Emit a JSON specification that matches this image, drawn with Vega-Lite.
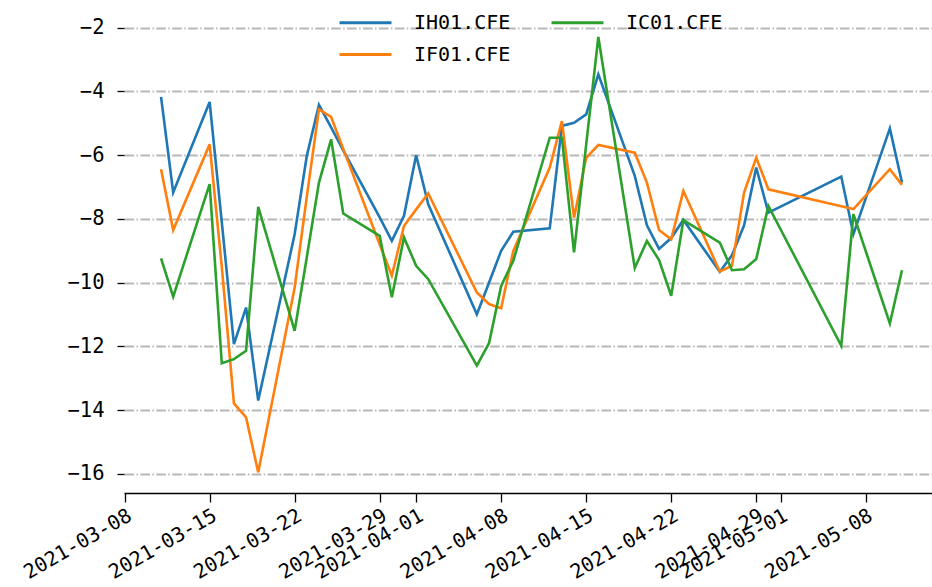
{
  "$schema": "https://vega.github.io/schema/vega-lite/v6.json",
  "autosize": {"type": "none"},
  "width": 808,
  "height": 478,
  "padding": {"left": 124, "top": 15, "right": 0, "bottom": 94},
  "background": "white",
  "config": {
    "view": {"stroke": null},
    "font": "DejaVu Sans Mono"
  },
  "data": {
    "values": [
      {"date": "2021/03/11", "series": "IH01.CFE", "value": -4.17},
      {"date": "2021/03/12", "series": "IH01.CFE", "value": -7.17},
      {"date": "2021/03/15", "series": "IH01.CFE", "value": -4.33},
      {"date": "2021/03/16", "series": "IH01.CFE", "value": -8.1},
      {"date": "2021/03/17", "series": "IH01.CFE", "value": -11.93},
      {"date": "2021/03/18", "series": "IH01.CFE", "value": -10.78},
      {"date": "2021/03/19", "series": "IH01.CFE", "value": -13.7},
      {"date": "2021/03/22", "series": "IH01.CFE", "value": -8.48},
      {"date": "2021/03/23", "series": "IH01.CFE", "value": -6.02},
      {"date": "2021/03/24", "series": "IH01.CFE", "value": -4.42},
      {"date": "2021/03/25", "series": "IH01.CFE", "value": -5.13},
      {"date": "2021/03/26", "series": "IH01.CFE", "value": -5.85},
      {"date": "2021/03/29", "series": "IH01.CFE", "value": -7.95},
      {"date": "2021/03/30", "series": "IH01.CFE", "value": -8.69},
      {"date": "2021/03/31", "series": "IH01.CFE", "value": -7.9},
      {"date": "2021/04/01", "series": "IH01.CFE", "value": -6.0},
      {"date": "2021/04/02", "series": "IH01.CFE", "value": -7.54},
      {"date": "2021/04/06", "series": "IH01.CFE", "value": -10.99},
      {"date": "2021/04/07", "series": "IH01.CFE", "value": -10.0},
      {"date": "2021/04/08", "series": "IH01.CFE", "value": -9.0},
      {"date": "2021/04/09", "series": "IH01.CFE", "value": -8.4},
      {"date": "2021/04/12", "series": "IH01.CFE", "value": -8.29},
      {"date": "2021/04/13", "series": "IH01.CFE", "value": -5.08},
      {"date": "2021/04/14", "series": "IH01.CFE", "value": -4.98},
      {"date": "2021/04/15", "series": "IH01.CFE", "value": -4.72},
      {"date": "2021/04/16", "series": "IH01.CFE", "value": -3.46},
      {"date": "2021/04/19", "series": "IH01.CFE", "value": -6.65},
      {"date": "2021/04/20", "series": "IH01.CFE", "value": -8.2},
      {"date": "2021/04/21", "series": "IH01.CFE", "value": -8.94},
      {"date": "2021/04/22", "series": "IH01.CFE", "value": -8.6},
      {"date": "2021/04/23", "series": "IH01.CFE", "value": -8.03},
      {"date": "2021/04/26", "series": "IH01.CFE", "value": -9.66},
      {"date": "2021/04/27", "series": "IH01.CFE", "value": -9.14},
      {"date": "2021/04/28", "series": "IH01.CFE", "value": -8.2},
      {"date": "2021/04/29", "series": "IH01.CFE", "value": -6.39},
      {"date": "2021/04/30", "series": "IH01.CFE", "value": -7.8},
      {"date": "2021/05/06", "series": "IH01.CFE", "value": -6.67},
      {"date": "2021/05/07", "series": "IH01.CFE", "value": -8.48},
      {"date": "2021/05/10", "series": "IH01.CFE", "value": -5.16},
      {"date": "2021/05/11", "series": "IH01.CFE", "value": -6.86},
      {"date": "2021/03/11", "series": "IF01.CFE", "value": -6.44},
      {"date": "2021/03/12", "series": "IF01.CFE", "value": -8.35},
      {"date": "2021/03/15", "series": "IF01.CFE", "value": -5.66},
      {"date": "2021/03/16", "series": "IF01.CFE", "value": -9.5},
      {"date": "2021/03/17", "series": "IF01.CFE", "value": -13.79},
      {"date": "2021/03/18", "series": "IF01.CFE", "value": -14.23},
      {"date": "2021/03/19", "series": "IF01.CFE", "value": -15.95},
      {"date": "2021/03/22", "series": "IF01.CFE", "value": -10.15},
      {"date": "2021/03/23", "series": "IF01.CFE", "value": -7.3},
      {"date": "2021/03/24", "series": "IF01.CFE", "value": -4.56},
      {"date": "2021/03/25", "series": "IF01.CFE", "value": -4.8},
      {"date": "2021/03/26", "series": "IF01.CFE", "value": -5.8},
      {"date": "2021/03/29", "series": "IF01.CFE", "value": -8.8},
      {"date": "2021/03/30", "series": "IF01.CFE", "value": -9.78},
      {"date": "2021/03/31", "series": "IF01.CFE", "value": -8.22},
      {"date": "2021/04/01", "series": "IF01.CFE", "value": -7.7},
      {"date": "2021/04/02", "series": "IF01.CFE", "value": -7.2},
      {"date": "2021/04/06", "series": "IF01.CFE", "value": -10.31},
      {"date": "2021/04/07", "series": "IF01.CFE", "value": -10.67},
      {"date": "2021/04/08", "series": "IF01.CFE", "value": -10.8},
      {"date": "2021/04/09", "series": "IF01.CFE", "value": -9.0},
      {"date": "2021/04/12", "series": "IF01.CFE", "value": -6.39},
      {"date": "2021/04/13", "series": "IF01.CFE", "value": -4.93},
      {"date": "2021/04/14", "series": "IF01.CFE", "value": -7.96},
      {"date": "2021/04/15", "series": "IF01.CFE", "value": -6.08},
      {"date": "2021/04/16", "series": "IF01.CFE", "value": -5.68},
      {"date": "2021/04/19", "series": "IF01.CFE", "value": -5.92},
      {"date": "2021/04/20", "series": "IF01.CFE", "value": -6.86},
      {"date": "2021/04/21", "series": "IF01.CFE", "value": -8.35},
      {"date": "2021/04/22", "series": "IF01.CFE", "value": -8.64},
      {"date": "2021/04/23", "series": "IF01.CFE", "value": -7.12},
      {"date": "2021/04/26", "series": "IF01.CFE", "value": -9.65},
      {"date": "2021/04/27", "series": "IF01.CFE", "value": -9.47},
      {"date": "2021/04/28", "series": "IF01.CFE", "value": -7.17},
      {"date": "2021/04/29", "series": "IF01.CFE", "value": -6.08},
      {"date": "2021/04/30", "series": "IF01.CFE", "value": -7.07},
      {"date": "2021/05/06", "series": "IF01.CFE", "value": -7.6},
      {"date": "2021/05/07", "series": "IF01.CFE", "value": -7.69},
      {"date": "2021/05/10", "series": "IF01.CFE", "value": -6.44},
      {"date": "2021/05/11", "series": "IF01.CFE", "value": -6.93},
      {"date": "2021/03/11", "series": "IC01.CFE", "value": -9.24},
      {"date": "2021/03/12", "series": "IC01.CFE", "value": -10.44},
      {"date": "2021/03/15", "series": "IC01.CFE", "value": -6.91},
      {"date": "2021/03/16", "series": "IC01.CFE", "value": -12.53},
      {"date": "2021/03/17", "series": "IC01.CFE", "value": -12.4},
      {"date": "2021/03/18", "series": "IC01.CFE", "value": -12.14},
      {"date": "2021/03/19", "series": "IC01.CFE", "value": -7.62},
      {"date": "2021/03/22", "series": "IC01.CFE", "value": -11.51},
      {"date": "2021/03/23", "series": "IC01.CFE", "value": -9.2},
      {"date": "2021/03/24", "series": "IC01.CFE", "value": -6.86},
      {"date": "2021/03/25", "series": "IC01.CFE", "value": -5.5},
      {"date": "2021/03/26", "series": "IC01.CFE", "value": -7.83},
      {"date": "2021/03/29", "series": "IC01.CFE", "value": -8.53},
      {"date": "2021/03/30", "series": "IC01.CFE", "value": -10.46},
      {"date": "2021/03/31", "series": "IC01.CFE", "value": -8.58},
      {"date": "2021/04/01", "series": "IC01.CFE", "value": -9.47},
      {"date": "2021/04/02", "series": "IC01.CFE", "value": -9.89},
      {"date": "2021/04/06", "series": "IC01.CFE", "value": -12.6},
      {"date": "2021/04/07", "series": "IC01.CFE", "value": -11.9},
      {"date": "2021/04/08", "series": "IC01.CFE", "value": -10.1},
      {"date": "2021/04/09", "series": "IC01.CFE", "value": -9.31},
      {"date": "2021/04/12", "series": "IC01.CFE", "value": -5.45},
      {"date": "2021/04/13", "series": "IC01.CFE", "value": -5.45},
      {"date": "2021/04/14", "series": "IC01.CFE", "value": -9.05},
      {"date": "2021/04/15", "series": "IC01.CFE", "value": -5.67},
      {"date": "2021/04/16", "series": "IC01.CFE", "value": -2.29},
      {"date": "2021/04/19", "series": "IC01.CFE", "value": -9.54},
      {"date": "2021/04/20", "series": "IC01.CFE", "value": -8.69},
      {"date": "2021/04/21", "series": "IC01.CFE", "value": -9.29},
      {"date": "2021/04/22", "series": "IC01.CFE", "value": -10.41},
      {"date": "2021/04/23", "series": "IC01.CFE", "value": -8.04},
      {"date": "2021/04/26", "series": "IC01.CFE", "value": -8.74},
      {"date": "2021/04/27", "series": "IC01.CFE", "value": -9.61},
      {"date": "2021/04/28", "series": "IC01.CFE", "value": -9.58},
      {"date": "2021/04/29", "series": "IC01.CFE", "value": -9.26},
      {"date": "2021/04/30", "series": "IC01.CFE", "value": -7.59},
      {"date": "2021/05/06", "series": "IC01.CFE", "value": -11.98},
      {"date": "2021/05/07", "series": "IC01.CFE", "value": -7.85},
      {"date": "2021/05/10", "series": "IC01.CFE", "value": -11.28},
      {"date": "2021/05/11", "series": "IC01.CFE", "value": -9.61}
    ]
  },
  "mark": {"type": "line", "strokeWidth": 2.6, "clip": true},
  "encoding": {
    "x": {
      "field": "date",
      "type": "temporal",
      "scale": {
        "domain": [
          {"year": 2021, "month": 3, "date": 7, "hours": 22, "minutes": 48},
          {"year": 2021, "month": 5, "date": 13, "hours": 11, "minutes": 17}
        ],
        "nice": false
      },
      "axis": {
        "title": null,
        "values": [
          {"year": 2021, "month": 3, "date": 8},
          {"year": 2021, "month": 3, "date": 15},
          {"year": 2021, "month": 3, "date": 22},
          {"year": 2021, "month": 3, "date": 29},
          {"year": 2021, "month": 4, "date": 1},
          {"year": 2021, "month": 4, "date": 8},
          {"year": 2021, "month": 4, "date": 15},
          {"year": 2021, "month": 4, "date": 22},
          {"year": 2021, "month": 4, "date": 29},
          {"year": 2021, "month": 5, "date": 1},
          {"year": 2021, "month": 5, "date": 8}
        ],
        "format": "%Y-%m-%d",
        "labelAngle": -30,
        "labelAlign": "right",
        "labelBaseline": "top",
        "labelFontSize": 20,
        "labelFont": "DejaVu Sans Mono",
        "labelColor": "#000000",
        "labelPadding": 3,
        "labelOverlap": false,
        "labelFlush": false,
        "labelBound": false,
        "tickColor": "#000000",
        "tickSize": 9,
        "tickWidth": 1.3,
        "domainColor": "#000000",
        "domainWidth": 1.4,
        "grid": false
      }
    },
    "y": {
      "field": "value",
      "type": "quantitative",
      "scale": {"domain": [-16.6, -1.6], "nice": false, "zero": false},
      "axis": {
        "title": null,
        "values": [-16, -14, -12, -10, -8, -6, -4, -2],
        "format": "d",
        "domain": false,
        "labelFontSize": 20.5,
        "labelFont": "DejaVu Sans Mono",
        "labelColor": "#000000",
        "labelPadding": 13,
        "tickColor": "#000000",
        "tickSize": 7,
        "tickWidth": 1.3,
        "grid": true,
        "gridColor": "#b8b8b8",
        "gridWidth": 1.8,
        "gridDash": [9.6, 2.4, 1.5, 2.4]
      }
    },
    "color": {
      "field": "series",
      "type": "nominal",
      "scale": {
        "domain": ["IH01.CFE", "IF01.CFE", "IC01.CFE"],
        "range": ["#1f77b4", "#ff7f0e", "#2ca02c"]
      },
      "legend": {
        "title": null,
        "orient": "none",
        "legendX": 231,
        "legendY": -3,
        "columns": 2,
        "columnPadding": 34,
        "rowPadding": 11,
        "symbolType": "M-3,0H3",
        "symbolSize": 300,
        "symbolStrokeWidth": 2.8,
        "labelFont": "DejaVu Sans Mono",
        "labelFontSize": 20,
        "labelColor": "#000000",
        "labelOffset": 38,
        "labelLimit": 0
      }
    }
  }
}
